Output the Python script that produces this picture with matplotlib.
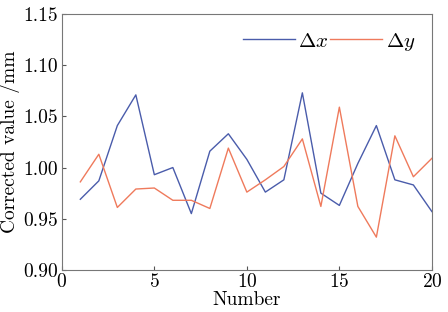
import matplotlib
matplotlib.use('Agg')
import matplotlib.pyplot as plt

number = list(range(1, 21))
dx = [0.969, 0.987, 1.041, 1.071, 0.993, 1.000, 0.955, 1.016, 1.033, 1.008,
      0.976, 0.988, 1.073, 0.975, 0.963, 1.004, 1.041, 0.988, 0.983, 0.957]
dy = [0.986, 1.013, 0.961, 0.979, 0.980, 0.968, 0.968, 0.960, 1.019, 0.976,
      0.988, 1.001, 1.028, 0.962, 1.059, 0.962, 0.932, 1.031, 0.991, 1.009]

plt.rcParams['font.family'] = 'cmr10'
plt.rcParams['mathtext.fontset'] = 'cm'
plt.rcParams['axes.formatter.use_mathtext'] = True

fig = plt.figure(figsize=(4.48, 3.12), dpi=100)
ax = fig.add_axes([0.138, 0.135, 0.826, 0.82])

ax.plot(number, dx, color='#4a5cab', lw=1.0, label=r'$\Delta x$')
ax.plot(number, dy, color='#ef7a5c', lw=1.0, label=r'$\Delta y$')

ax.set_xlim(0, 20)
ax.set_ylim(0.90, 1.15)
ax.set_xticks([0, 5, 10, 15, 20])
ax.set_yticks([0.90, 0.95, 1.00, 1.05, 1.10, 1.15])
ax.set_yticklabels(['0.90', '0.95', '1.00', '1.05', '1.10', '1.15'])
ax.tick_params(direction='in', labelsize=14, length=3, color='#555555')
ax.tick_params(axis='x', pad=2)
ax.tick_params(axis='y', pad=3)
for s in ax.spines.values():
    s.set_color('#777777')

ax.set_xlabel('Number', fontsize=14, labelpad=0)
ax.set_ylabel('Corrected value /mm', fontsize=14, labelpad=2)

ax.legend(loc='upper right', ncol=2, frameon=False, fontsize=15,
          handlelength=2.5, columnspacing=0.1, handletextpad=0.15,
          borderaxespad=0.4)

fig.savefig('out.png', dpi=100)
